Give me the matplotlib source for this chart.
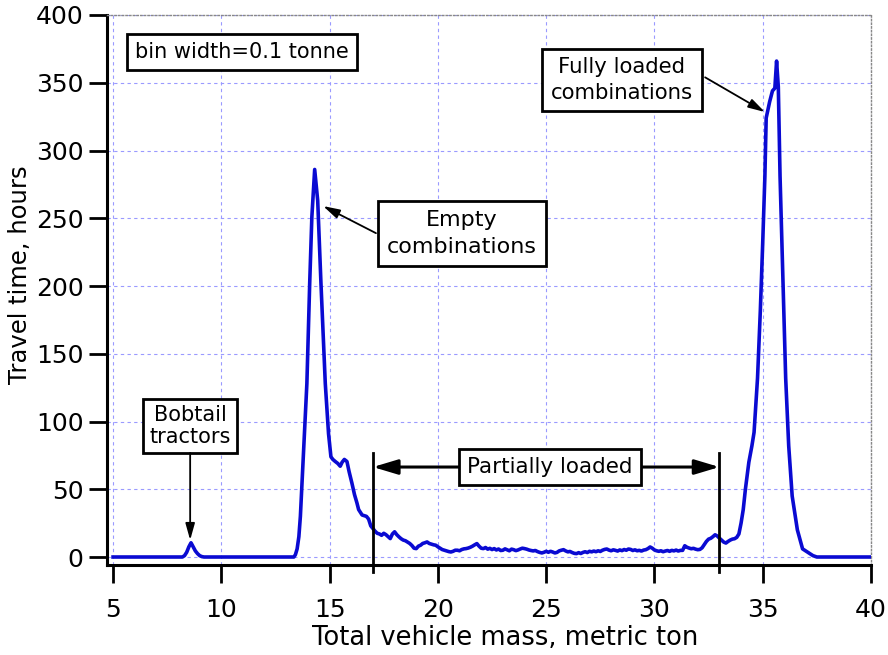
import matplotlib
matplotlib.use('Agg')
import matplotlib.pyplot as plt

# travel time histogram (mass in tonnes, hours)
mass_low = [5.0, 8.2, 8.3, 8.4, 8.5, 8.6, 8.7, 8.8, 8.9, 9.0, 9.1, 9.2, 13.35,
            13.42, 13.5, 13.58, 13.65, 13.8, 13.95, 14.08, 14.18, 14.31, 14.45,
            14.6, 14.8, 14.95, 15.06, 15.15, 15.26, 15.38, 15.49, 15.58, 15.68,
            15.8, 15.9, 16.03, 16.15, 16.26, 16.34, 16.42, 16.5, 16.6, 16.7,
            16.8, 16.9]
hours_low = [0, 0, 1, 3.5, 7.5, 10.5, 7.5, 4.5, 2.5, 1, 0.3, 0, 0,
             1.7, 6, 15, 30, 79, 128, 202, 251, 286, 263,
             202, 128, 91, 74, 72, 70.5, 69, 67, 70, 72,
             70.5, 63, 54.5, 46, 40, 35, 33, 31, 30.5, 30,
             28, 23]

mass_mid = [17.0, 17.1, 17.2, 17.3, 17.4, 17.5, 17.6, 17.7, 17.8, 17.9,
            18.0, 18.1, 18.2, 18.3, 18.4, 18.5, 18.6, 18.7, 18.8, 18.9,
            19.0, 19.1, 19.2, 19.3, 19.4, 19.5, 19.6, 19.7, 19.8, 19.9,
            20.0, 20.1, 20.2, 20.3, 20.4, 20.5, 20.6, 20.7, 20.8, 20.9,
            21.0, 21.1, 21.2, 21.3, 21.4, 21.5, 21.6, 21.7, 21.8, 21.9,
            22.0, 22.1, 22.2, 22.3, 22.4, 22.5, 22.6, 22.7, 22.8, 22.9,
            23.0, 23.1, 23.2, 23.3, 23.4, 23.5, 23.6, 23.7, 23.8, 23.9,
            24.0, 24.1, 24.2, 24.3, 24.4, 24.5, 24.6, 24.7, 24.8, 24.9,
            25.0, 25.1, 25.2, 25.3, 25.4, 25.5, 25.6, 25.7, 25.8, 25.9,
            26.0, 26.1, 26.2, 26.3, 26.4, 26.5, 26.6, 26.7, 26.8, 26.9,
            27.0, 27.1, 27.2, 27.3, 27.4, 27.5, 27.6, 27.7, 27.8, 27.9,
            28.0, 28.1, 28.2, 28.3, 28.4, 28.5, 28.6, 28.7, 28.8, 28.9,
            29.0, 29.1, 29.2, 29.3, 29.4, 29.5, 29.6, 29.7, 29.8, 29.9,
            30.0, 30.1, 30.2, 30.3, 30.4, 30.5, 30.6, 30.7, 30.8, 30.9,
            31.0, 31.1, 31.2, 31.3, 31.4, 31.5, 31.6, 31.7, 31.8, 31.9,
            32.0, 32.1, 32.2, 32.3, 32.4, 32.5, 32.6, 32.7, 32.8, 32.9,
            33.0, 33.1, 33.2, 33.3, 33.4, 33.5, 33.6, 33.7, 33.8, 33.9]
hours_mid = [21, 19, 17.5, 17, 16, 17.5, 16.5, 15, 13.6, 17,
             18.6, 16.5, 14.9, 13.5, 12.5, 12, 11, 10, 8.5, 6.5,
             6.2, 8, 8.7, 10, 10.5, 11.1, 10, 9.5, 9, 8.7,
             7.5, 6.5, 5.5, 5, 4.5, 4, 3.7, 4.2, 5, 5,
             4.6, 5.5, 6, 6.2, 6.6, 7.2, 8, 9, 9.9, 8,
             6.5, 6.2, 7, 5.8, 6.4, 5.5, 6.2, 5.2, 5.9, 4.8,
             5, 6, 5.3, 4.6, 5.8, 5.4, 4.7, 5.2, 5.9, 6.5,
             6.2, 5.8, 5.2, 4.8, 4.5, 4.8, 4, 3.4, 3, 3.5,
             4.2, 3.5, 4.2, 3.7, 3, 3.4, 4.5, 5, 5.4, 4.5,
             3.8, 4.1, 3.3, 2.7, 2.5, 3.2, 2.6, 3.4, 3.9, 3.3,
             4.2, 3.8, 4.4, 3.9, 4.6, 4.1, 5, 5.6, 5.9, 5.1,
             4.6, 5.3, 4.9, 4.4, 5.2, 4.7, 5.5, 5, 5.9, 5.6,
             4.8, 5.3, 4.6, 4.9, 4.4, 5.1, 5.4, 6.2, 7.4, 6.5,
             5.2, 4.6, 4.2, 4.6, 3.9, 4.4, 4.8, 4.2, 4.9, 4.5,
             5.1, 4.4, 4.9, 4.9, 8.3, 7.2, 6.6, 6.1, 6.4, 5.8,
             5.4, 5.6, 6.8, 9.1, 11.5, 13.2, 13.8, 15, 16.4, 15.5,
             13.9, 12.5, 11, 10.3, 11.5, 12.5, 13.2, 13.5, 14.5, 17]

mass_high = [34.0, 34.1, 34.2, 34.36, 34.5, 34.6, 34.76, 34.89, 35.0, 35.1,
             35.16, 35.32, 35.45, 35.56, 35.64, 35.72, 35.8, 35.93, 36.06,
             36.2, 36.36, 36.6, 36.84, 37.08, 37.32, 37.5, 40.0]
hours_high = [25, 35, 50, 70, 82, 92, 132, 182, 232, 281,
              324, 336, 344, 346, 366, 347, 281, 207, 132,
              82, 45, 20, 6, 3.5, 1, 0, 0]

mass = mass_low + mass_mid + mass_high
hours = hours_low + hours_mid + hours_high

plt.rcParams['font.family'] = ['DejaVu Sans']

fig = plt.figure(figsize=(8.88, 6.55), dpi=100)
ax = fig.add_axes([107 / 888, 1 - 565 / 655, (871 - 107) / 888, (565 - 15) / 655])

ax.plot(mass, hours, color='#0a0ad2', lw=2.6, zorder=3, solid_joinstyle='round')

ax.set_xlim(4.72, 40)
ax.set_ylim(-5.9, 400)
ax.set_xticks(range(5, 41, 5))
ax.set_yticks(range(0, 401, 50))
ax.grid(True, color='#9a9aff', ls=(0, (3, 3)), lw=0.8)
ax.set_axisbelow(True)

for s in ['left', 'bottom']:
    ax.spines[s].set_linewidth(2.2)
for s in ['top', 'right']:
    ax.spines[s].set_linestyle(':')
    ax.spines[s].set_color('#888888')
    ax.spines[s].set_linewidth(1)

ax.tick_params(direction='out', length=13, width=2, labelsize=18)
ax.tick_params(axis='x', pad=11)
ax.tick_params(axis='y', pad=4)
ax.set_xlabel('Total vehicle mass, metric ton', fontsize=18.5)
ax.set_ylabel('Travel time, hours', fontsize=17.5)
ax.xaxis.set_label_coords(0.521, -0.109)
ax.yaxis.set_label_coords(-0.098, 0.527)

box = dict(boxstyle='square,pad=0.4', fc='white', ec='black', lw=2)
ax.text(10.96, 372.7, 'bin width=0.1 tonne', fontsize=15, ha='center', va='center', bbox=box)
ax.text(21.1, 239, 'Empty\ncombinations', fontsize=16, ha='center', va='center',
        bbox=box, linespacing=1.45)
ax.text(28.5, 352, 'Fully loaded\ncombinations', fontsize=15.3, ha='center', va='center',
        bbox=box, linespacing=1.35)
ax.text(8.56, 96.7, 'Bobtail\ntractors', fontsize=15, ha='center', va='center',
        bbox=dict(boxstyle='square,pad=0.3', fc='white', ec='black', lw=2), linespacing=1.1)
ax.text(25.18, 66.4, 'Partially loaded', fontsize=15.5, ha='center', va='center',
        bbox=dict(boxstyle='square,pad=0.38', fc='white', ec='black', lw=2), zorder=5)

small = dict(arrowstyle='-|>,head_length=1.0,head_width=0.28', color='black', lw=1.3,
             shrinkA=0, shrinkB=0)
ax.annotate('', xy=(14.7, 259), xytext=(17.14, 239), arrowprops=small)
ax.annotate('', xy=(35.1, 328.4), xytext=(32.34, 354), arrowprops=small)
ax.annotate('', xy=(8.56, 12.5), xytext=(8.56, 76.8), arrowprops=small)

big = dict(arrowstyle='-|>,head_length=1.5,head_width=0.45', color='black', lw=2.2,
           shrinkA=0, shrinkB=0)
ax.annotate('', xy=(17.0, 66.4), xytext=(21.02, 66.4), arrowprops=big)
ax.annotate('', xy=(33.0, 66.4), xytext=(29.38, 66.4), arrowprops=big)

for xv in [17.0, 33.0]:
    ax.plot([xv, xv], [-11, 77], color='black', lw=2, clip_on=False, zorder=4)

fig.savefig('out.png', dpi=100)
